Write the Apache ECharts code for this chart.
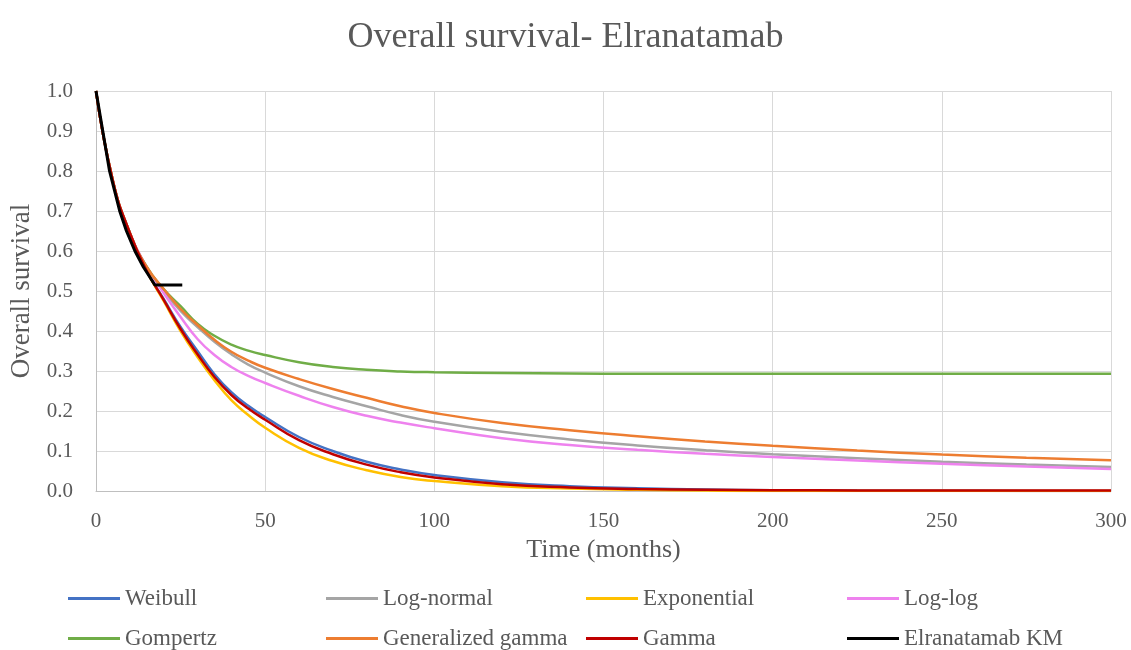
<!DOCTYPE html>
<html>
<head>
<meta charset="utf-8">
<script src="https://cdn.jsdelivr.net/npm/echarts@6/dist/echarts.min.js"></script>
<style>
  html, body { margin: 0; padding: 0; background: #fff; }
  #main_chart { width: 1131px; height: 650px; }
</style>
</head>
<body>
<div id="main_chart"></div>
<script>
// months shared by the fitted curves
var months = [0, 5, 10, 15, 20, 25, 30, 35, 40, 45, 50, 60, 70, 80, 90, 100, 120, 140, 160, 180, 200, 225, 250, 275, 300];

var weibull     = [1, 0.775, 0.645, 0.55, 0.48, 0.41, 0.35, 0.292, 0.247, 0.213, 0.185, 0.135, 0.10, 0.073, 0.054, 0.04, 0.022, 0.012, 0.007, 0.004, 0.002, 0.001, 0.0005, 0.0002, 0];
var logNormal   = [1, 0.775, 0.645, 0.56, 0.50, 0.45, 0.41, 0.373, 0.342, 0.316, 0.296, 0.262, 0.235, 0.212, 0.19, 0.173, 0.148, 0.129, 0.114, 0.102, 0.092, 0.082, 0.073, 0.066, 0.06];
var exponential = [1, 0.775, 0.645, 0.55, 0.475, 0.40, 0.335, 0.277, 0.227, 0.19, 0.158, 0.108, 0.075, 0.052, 0.035, 0.025, 0.012, 0.006, 0.003, 0.001, 0, 0, 0, 0, 0];
var logLog      = [1, 0.775, 0.645, 0.56, 0.495, 0.435, 0.38, 0.34, 0.31, 0.288, 0.27, 0.238, 0.21, 0.188, 0.171, 0.157, 0.132, 0.115, 0.103, 0.093, 0.085, 0.076, 0.068, 0.061, 0.055];
var gompertz    = [1, 0.775, 0.645, 0.56, 0.505, 0.462, 0.418, 0.388, 0.366, 0.351, 0.34, 0.322, 0.31, 0.303, 0.299, 0.297, 0.295, 0.294, 0.293, 0.293, 0.293, 0.293, 0.293, 0.293, 0.293];
var genGamma    = [1, 0.775, 0.645, 0.56, 0.505, 0.455, 0.415, 0.378, 0.348, 0.326, 0.308, 0.28, 0.255, 0.233, 0.212, 0.195, 0.17, 0.152, 0.137, 0.124, 0.113, 0.101, 0.091, 0.083, 0.077];
var gamma       = [1, 0.775, 0.645, 0.55, 0.478, 0.405, 0.342, 0.285, 0.24, 0.206, 0.178, 0.127, 0.092, 0.066, 0.047, 0.034, 0.017, 0.009, 0.005, 0.003, 0.002, 0.0015, 0.001, 0.001, 0.001];

// Kaplan-Meier
var kmMonths = [0, 1, 2, 3, 4, 5.5, 7, 9, 11.5, 14, 17.4, 25.5];
var kmValues = [1, 0.95, 0.9, 0.85, 0.8, 0.75, 0.70, 0.65, 0.60, 0.56, 0.515, 0.515];

var names  = ['Weibull', 'Log-normal', 'Exponential', 'Log-log', 'Gompertz', 'Generalized gamma', 'Gamma', 'Elranatamab KM'];
var colors = ['#4472C4', '#A5A5A5', '#FFC000', '#EE82EE', '#70AD47', '#ED7D31', '#C00000', '#000000'];
var curves = [weibull, logNormal, exponential, logLog, gompertz, genGamma, gamma];

var font = 'Liberation Serif';
var textColor = '#595959';

function pairs(xs, ys) {
    return xs.map(function (x, i) { return [x, ys[i]]; });
}

var series = curves.map(function (c, i) {
    return {
        name: names[i],
        type: 'line',
        data: pairs(months, c),
        smooth: true,
        showSymbol: false,
        lineStyle: { width: 2.5, color: colors[i] },
        itemStyle: { color: colors[i] }
    };
});
series.push({
    name: names[7],
    type: 'line',
    data: pairs(kmMonths, kmValues),
    showSymbol: false,
    lineStyle: { width: 3, color: colors[7] },
    itemStyle: { color: colors[7] }
});

// legend positions: 4 columns x 2 rows
var legendLeft = [63, 321, 581, 842];
var legendTop = [582, 622];
var legends = names.map(function (n, i) {
    return {
        data: [n],
        left: legendLeft[i % 4],
        top: legendTop[Math.floor(i / 4)],
        icon: 'rect',
        itemWidth: 52,
        itemHeight: 3,
        textStyle: { fontFamily: font, fontSize: 23, color: textColor },
        selectedMode: false
    };
});

const myChart = echarts.init(document.getElementById('main_chart'));

var option = {
    animation: false,
    color: colors,
    title: {
        text: 'Overall survival- Elranatamab',
        left: 'center',
        top: 15,
        textStyle: { fontFamily: font, fontSize: 36, fontWeight: 'normal', color: textColor }
    },
    legend: legends,
    grid: { left: 96, right: 20, top: 91, bottom: 159 },
    xAxis: {
        type: 'value',
        min: 0,
        max: 300,
        interval: 50,
        name: 'Time (months)',
        nameLocation: 'middle',
        nameGap: 45,
        nameTextStyle: { fontFamily: font, fontSize: 26, color: textColor },
        axisLine: { lineStyle: { color: '#BFBFBF' } },
        axisTick: { show: false },
        axisLabel: { fontFamily: font, fontSize: 21, color: textColor, margin: 20 },
        splitLine: { lineStyle: { color: '#D9D9D9' } }
    },
    yAxis: {
        type: 'value',
        min: 0,
        max: 1,
        interval: 0.1,
        name: 'Overall survival',
        nameLocation: 'middle',
        nameGap: 58,
        nameTextStyle: { fontFamily: font, fontSize: 27, color: textColor },
        axisLine: { show: true, lineStyle: { color: '#BFBFBF' } },
        axisTick: { show: false },
        axisLabel: {
            fontFamily: font, fontSize: 21, color: textColor, margin: 23,
            formatter: function (v) { return v.toFixed(1); }
        },
        splitLine: { lineStyle: { color: '#D9D9D9' } }
    },
    series: series
};

myChart.setOption(option);
window.onresize = function () {
    myChart.resize();
};
</script>
</body>
</html>
